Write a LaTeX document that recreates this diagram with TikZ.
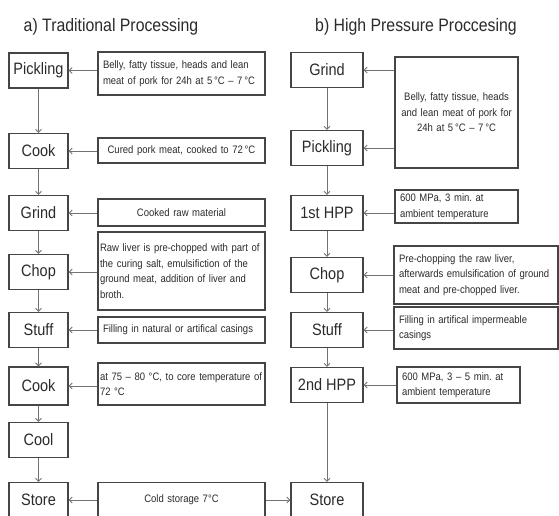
\documentclass[tikz,border=0pt]{standalone}
\usepackage{fontspec}
\setmainfont{Liberation Sans}[FakeStretch=0.88]
\usepackage{tikz}
\usetikzlibrary{arrows.meta,positioning}
\definecolor{boxline} {HTML}{454545}
\definecolor{flowline}{HTML}{727272}
\definecolor{inktext} {HTML}{2B2B2B}
\tikzset{
  stage/.style={draw=boxline,line width=1.1pt,text=inktext,
                minimum height=35pt,inner sep=0pt,
                font=\fontsize{16.5}{18}\selectfont},
  stageL/.style={stage,minimum width=59pt},
  stageR/.style={stage,minimum width=72pt},
  note/.style={draw=boxline,line width=1.1pt,text=inktext,
               inner xsep=5pt,inner ysep=0pt,align=left,
               font=\fontsize{10.8}{15.5}\selectfont},
  flow/.style={draw=flowline,line width=0.9pt,
               -{Straight Barb[length=3pt,width=6pt]}},
  heading/.style={text=inktext,font=\fontsize{18}{22}\selectfont}
}
\frenchspacing

\begin{document}
\begin{tikzpicture}[x=1pt,y=-1pt]
  \path[use as bounding box,fill=white] (0,0) rectangle (559,515);

  % headings
  \node[heading] (headA) at (111,27) {a) Traditional Processing};
  \node[heading] (headB) at (416,27) {b) High Pressure Proccesing};

  % a) traditional chain
  \node[stageL] (pickA)  at (38.5,70.5) {Pickling};
  \node[stageL] (cookA)  at (38.5,151)  {Cook};
  \node[stageL] (grindA) at (38.5,213)  {Grind};
  \node[stageL] (chopA)  at (38.5,272)  {Chop};
  \node[stageL] (stuffA) at (38.5,330)  {Stuff};
  \node[stageL,minimum height=38pt] (cookB) at (38.5,386) {Cook};
  \node[stageL] (coolA)  at (38.5,440)  {Cool};
  \node[stageL] (storeA) at (38.5,500)  {Store};

  \node[note,text width=157pt,minimum height=43pt] (nPickA) at (181.5,73.5)
    {Belly, fatty tissue, heads and lean\\meat of pork for 24h at 5\,°C -- 7\,°C};
  \node[note,text width=157pt,minimum height=25pt,align=center] (nCookA) at (181.5,150.5)
    {Cured pork meat, cooked to 72\,°C};
  \node[note,text width=157pt,minimum height=27pt,align=center] (nGrindA) at (181.5,212.5)
    {Cooked raw material};
  \node[note,inner xsep=2pt,text width=163pt,minimum height=78pt] (nChopA) at (181.5,271)
    {Raw liver is pre-chopped with part of\\the curing salt, emulsifiction of the\\ground meat, addition of liver and\\broth.};
  \node[note,text width=157pt,minimum height=26pt] (nStuffA) at (181.5,330)
    {Filling in natural or artifical casings};
  \node[note,inner xsep=2pt,text width=163pt,minimum height=42pt] (nCookB) at (181.5,384)
    {at 75 -- 80 °C, to core temperature of\\72 °C};
  \node[note,text width=157pt,minimum height=35pt,align=center] (nStoreA) at (181.5,500)
    {Cold storage 7°C};

  % b) high pressure chain
  \node[stageR] (grindB) at (327,70)  {Grind};
  \node[stageR] (pickB)  at (327,148) {Pickling};
  \node[stageR] (hppA)   at (327,213) {1st HPP};
  \node[stageR] (chopB)  at (327,275) {Chop};
  \node[stageR] (stuffB) at (327,330) {Stuff};
  \node[stageR] (hppB)   at (327,385) {2nd HPP};
  \node[stageR] (storeB) at (327,500) {Store};

  \node[note,text width=113pt,minimum height=111pt,align=center] (nRaw) at (456.5,112.5)
    {Belly, fatty tissue, heads\\and lean meat of pork for\\24h at 5\,°C -- 7\,°C};
  \node[note,text width=113pt,minimum height=33pt] (nHppA) at (456.5,206.5)
    {600 MPa, 3 min. at\\ambient temperature};
  \node[note,text width=154pt,minimum height=58pt] (nChopB) at (476,275)
    {Pre-chopping the raw liver,\\afterwards emulsification of ground\\meat and pre-chopped liver.};
  \node[note,text width=154pt,minimum height=42pt] (nStuffB) at (476,328)
    {Filling in artifical impermeable\\casings};
  \node[note,text width=113pt,minimum height=36pt] (nHppB) at (458.5,385)
    {600 MPa, 3 -- 5 min. at\\ambient temperature};

  % down the chains
  \foreach \a/\b in {pickA/cookA,cookA/grindA,grindA/chopA,chopA/stuffA,
                     stuffA/cookB,cookB/coolA,coolA/storeA,
                     grindB/pickB,pickB/hppA,hppA/chopB,chopB/stuffB,
                     stuffB/hppB,hppB/storeB}
    \draw[flow] (\a) -- (\b);

  % inputs
  \foreach \n/\s in {nPickA/pickA,nCookA/cookA,nGrindA/grindA,nChopA/chopA,
                     nStuffA/stuffA,nCookB/cookB,nStoreA/storeA,
                     nRaw/grindB,nRaw/pickB,nHppA/hppA,nChopB/chopB,
                     nStuffB/stuffB,nHppB/hppB}
    \draw[flow] (\n.west |- \s) -- (\s.east);
  \draw[flow] (nStoreA) -- (storeB);
\end{tikzpicture}
\end{document}
